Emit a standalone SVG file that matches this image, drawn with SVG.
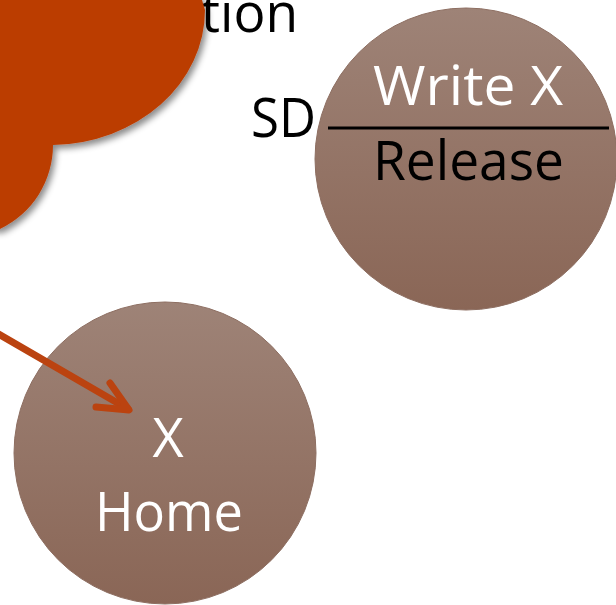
<svg xmlns="http://www.w3.org/2000/svg" width="616" height="605" viewBox="0 0 616 605">
  <style>
    .lbl { font-family: "Open Sans", "Liberation Sans", sans-serif; font-size: 54px; }
    .white { fill: #ffffff; }
    .black { fill: #000000; }
    .node { fill: url(#nodeFill); stroke: #8d6e61; stroke-width: 1; }
    .cloud { fill: #bb3d03; filter: url(#shadow); }
    .conn { fill: none; stroke: #bb4310; stroke-width: 7; stroke-linecap: round; stroke-linejoin: round; }
  </style>
  <defs>
    <linearGradient id="nodeFill" x1="0" y1="0" x2="0" y2="1">
      <stop offset="0" stop-color="#9e8377"/>
      <stop offset="1" stop-color="#8a6656"/>
    </linearGradient>
    <filter id="shadow" x="-20%" y="-20%" width="150%" height="150%">
      <feDropShadow dx="3" dy="4" stdDeviation="3" flood-color="#000000" flood-opacity="0.45"/>
    </filter>
  </defs>

  <rect width="616" height="605" fill="#ffffff"/>

  <!-- heading text, partly covered by the cloud -->
  <text class="lbl black" x="201" y="32" textLength="97" lengthAdjust="spacingAndGlyphs">tion</text>

  <!-- cloud callout -->
  <g id="cloud">
    <path class="cloud" d="M -10 -10 L 198 -10 A 155 135 0 0 1 205 10 A 155 135 0 0 1 53 145 A 93 93 0 0 1 0 229 L -10 229 Z"/>
  </g>

  <!-- write / release node -->
  <g id="node-write">
    <circle class="node" cx="466" cy="159" r="151"/>
    <text class="lbl black" x="251" y="137" textLength="65" lengthAdjust="spacingAndGlyphs">SD</text>
    <line x1="328" y1="128" x2="609" y2="128" stroke="#000000" stroke-width="3"/>
    <text class="lbl white" x="373" y="105" textLength="190" lengthAdjust="spacingAndGlyphs">Write X</text>
    <text class="lbl black" x="373" y="180" textLength="191" lengthAdjust="spacingAndGlyphs">Release</text>
  </g>

  <!-- home node -->
  <g id="node-home">
    <circle class="node" cx="165" cy="453" r="151"/>
    <text class="lbl white" x="168" y="457" text-anchor="middle">X</text>
    <text class="lbl white" x="95" y="531" textLength="148" lengthAdjust="spacingAndGlyphs">Home</text>
  </g>

  <!-- connectors -->
  <g id="connectors">
    <path class="conn" d="M -5 332 L 128 409"/>
    <path class="conn" d="M 110 383 L 129 410 L 96 407"/>
  </g>
</svg>
